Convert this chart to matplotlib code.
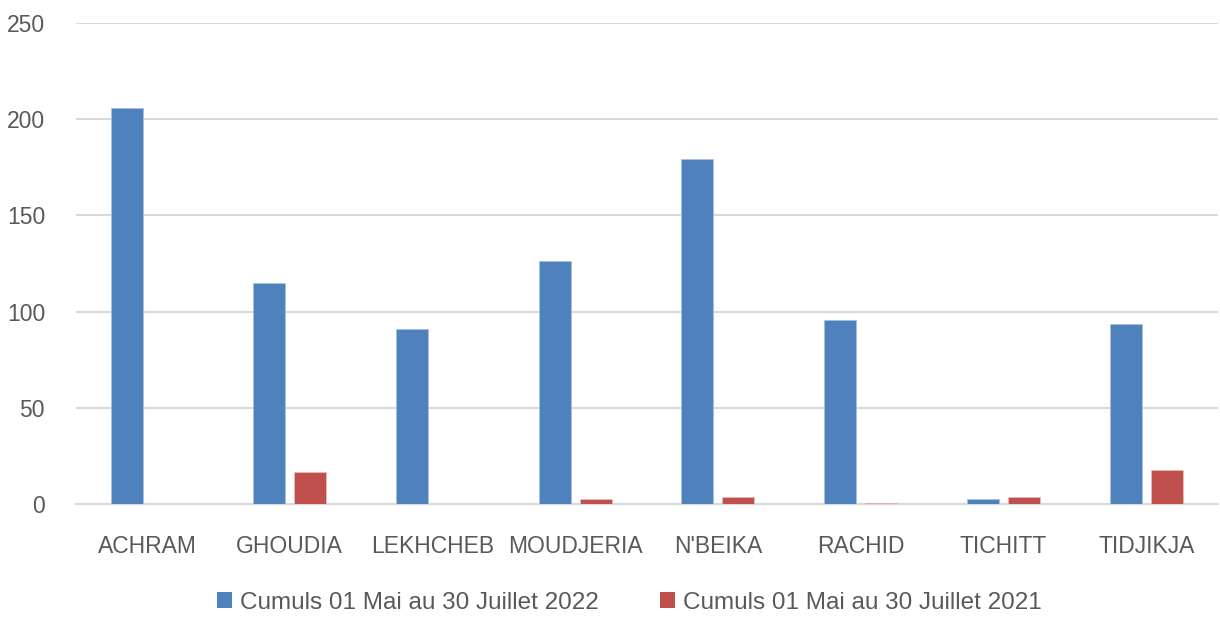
import matplotlib
matplotlib.use("Agg")
import matplotlib.pyplot as plt
import numpy as np
from matplotlib.patches import Patch

categories = ["ACHRAM", "GHOUDIA", "LEKHCHEB", "MOUDJERIA", "N'BEIKA", "RACHID", "TICHITT", "TIDJIKJA"]
cumul_2022 = [206, 115, 91, 126.5, 179.5, 95.5, 2.5, 93.5]
cumul_2021 = [0, 16.5, 0, 2.5, 3.8, 0.5, 3.8, 17.8]
series_labels = ["Cumuls 01 Mai au 30 Juillet 2022", "Cumuls 01 Mai au 30 Juillet 2021"]
yticks = [0, 50, 100, 150, 200, 250]

blue = "#4F81BD"
red = "#C0504D"
txt = "#595959"

plt.rcParams['font.family'] = ['Liberation Sans', 'DejaVu Sans']

fig = plt.figure(figsize=(12.2, 6.17), dpi=100)
ax = fig.add_axes([0.062, 0.183, 0.936, 0.78])

x = np.arange(len(categories))
w = 0.224
gap = 0.063
ax.bar(x - (w + gap) / 2, cumul_2022, width=w, color=blue, edgecolor="#a9c1e0", linewidth=0.6, zorder=3)
ax.bar(x + (w + gap) / 2, cumul_2021, width=w, color=red, edgecolor="#e6b9b8", linewidth=0.6, zorder=3)

ax.set_xlim(-0.5, len(categories) - 0.5)
ax.set_ylim(0, 250)
ax.set_yticks(yticks)
ax.set_xticks(x)
ax.set_xticklabels(categories)
ax.yaxis.grid(True, color="#D9D9D9", linewidth=1.5, zorder=0)
ax.set_axisbelow(True)
for s in ["top", "right", "left"]:
    ax.spines[s].set_visible(False)
ax.spines["bottom"].set_color("#D9D9D9")
ax.spines["bottom"].set_linewidth(1.5)
ax.tick_params(axis="both", length=0, labelsize=16.5, colors=txt)
ax.tick_params(axis="x", pad=22)
ax.tick_params(axis="y", pad=22)

handles = [Patch(facecolor=blue), Patch(facecolor=red)]
fig.legend(handles, series_labels, loc="center", bbox_to_anchor=(0.516, 0.023), ncol=2,
           frameon=False, fontsize=17.5, labelcolor=txt, handlelength=0.62, handleheight=0.62,
           handletextpad=0.35, columnspacing=2.5)

fig.savefig("out.png", dpi=100)
